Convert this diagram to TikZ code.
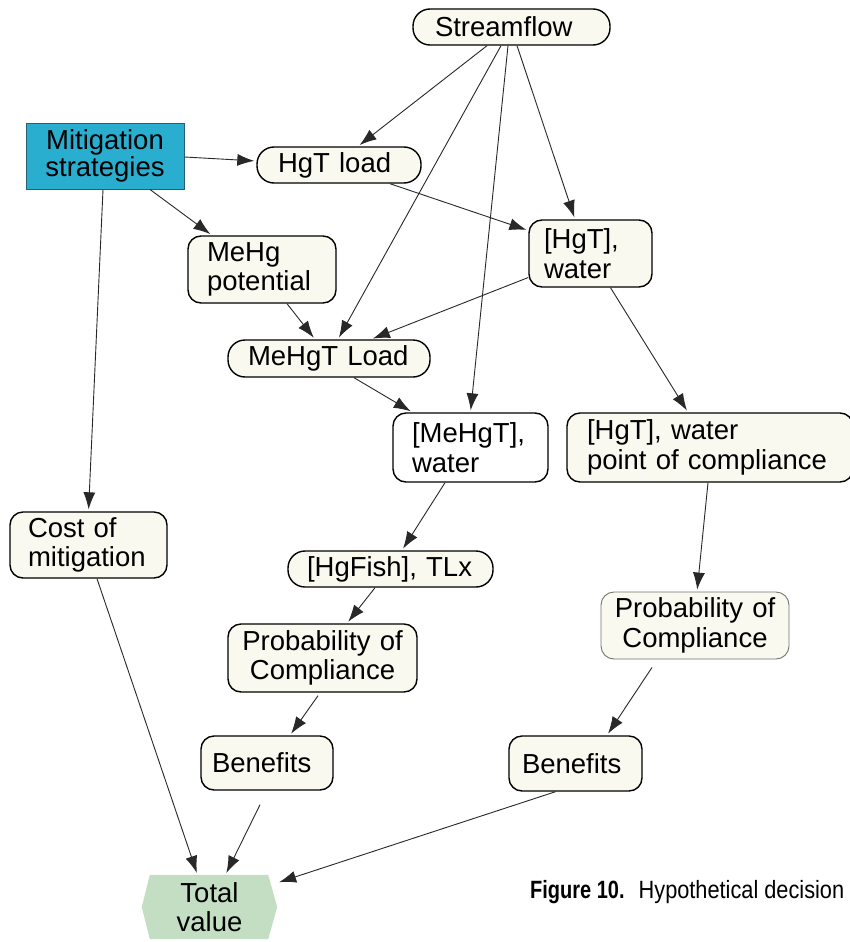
\documentclass[tikz,border=0pt]{standalone}
\usepackage{fontspec}
\setmainfont{Liberation Sans}
\newfontfamily\capfamily[FakeStretch=0.87,BoldFeatures={FakeStretch=0.8}]{Liberation Sans}
\usetikzlibrary{arrows.meta,backgrounds}

\definecolor{nodecream}{RGB}{249,249,240}
\definecolor{mitcyan}{RGB}{42,174,207}
\definecolor{mitedge}{RGB}{40,95,115}
\definecolor{valuegreen}{RGB}{196,222,196}
\definecolor{linkgray}{RGB}{40,40,40}

\newcommand\labelfont{\fontsize{27.5}{29.5}\selectfont}
\newcommand\capfont{\capfamily\fontsize{25}{29}\selectfont}

\begin{document}
\begin{tikzpicture}[x=1pt,y=-1pt,
  every node/.style={font=\labelfont, text=black},
  chance/.style={draw=black, line width=1.4pt, fill=nodecream,
                 rounded corners=13pt, inner ysep=0pt, align=left},
  pill/.style={chance, rounded corners=17pt},
  link/.style={draw=linkgray, line width=0.9pt,
               -{Latex[length=17pt,width=12pt]}, shorten >=2pt}
]
\useasboundingbox (0,0) rectangle (850,942);

% ---- nodes -------------------------------------------------------------
\node[pill, text width=153pt, inner xsep=22pt, minimum height=36pt]
  (stream) at (511.5,27) {Streamflow};
\node[draw=mitedge, line width=1pt, fill=mitcyan, align=center,
      text width=158pt, inner xsep=0pt, inner ysep=0pt, minimum height=66pt]
  (mit) at (105,156) {Mitigation\\[-2pt]strategies};
\node[pill, text width=122pt, inner xsep=21pt, minimum height=36pt]
  (hgtload) at (339,165) {HgT load};
\node[chance, text width=93pt, inner xsep=15pt, minimum height=67pt]
  (hgtw) at (590.5,253.5) {[HgT],\\water};
\node[chance, text width=110pt, inner xsep=19pt, minimum height=67pt]
  (mehgpot) at (262,269.5) {MeHg\\potential};
\node[pill, text width=162pt, inner xsep=20pt, minimum height=37pt]
  (mehgtload) at (329,358.5) {MeHgT Load};
\node[chance, fill=white, text width=117pt, inner xsep=19pt, minimum height=69pt]
  (mehgtw) at (470.5,447.5) {[MeHgT],\\water};
\node[chance, text width=246pt, inner xsep=20pt, minimum height=69pt]
  (hgtpoc) at (710,447.5) {[HgT], water\\point of compliance};
\node[chance, text width=121pt, inner xsep=18pt, minimum height=66pt]
  (cost) at (88.5,545) {Cost of\\mitigation};
\node[pill, text width=167pt, inner xsep=19pt, minimum height=36pt]
  (hgfish) at (390.5,569) {[HgFish], TLx};
\node[chance, align=center, text width=189pt, inner xsep=0pt, minimum height=68pt]
  (probL) at (322.5,658) {Probability of\\Compliance};
\node[chance, draw=black!55, line width=0.9pt, align=center, text width=188pt,
      inner xsep=0pt, minimum height=67pt]
  (probR) at (695,625.5) {Probability of\\Compliance};
\node[chance, text width=110pt, inner xsep=11pt, minimum height=54pt]
  (benL) at (267,763) {Benefits};
\node[chance, text width=107pt, inner xsep=13pt, minimum height=55pt]
  (benR) at (575.5,763.5) {Benefits};
\node[align=center, minimum width=135pt, minimum height=64pt, inner sep=0pt]
  (total) at (209.5,907) {Total\\value};

% hexagonal value node, filled behind its label
\begin{scope}[on background layer]
  \fill[white] (0,0) rectangle (850,942);
  \fill[valuegreen] ([xshift=8pt]total.north west) -- ([xshift=-9pt]total.north east)
    -- (total.east) -- ([xshift=-9pt]total.south east)
    -- ([xshift=8pt]total.south west) -- (total.west) -- cycle;
\end{scope}

% ---- influence arcs ----------------------------------------------------
\draw[link] ([xshift=-24.5pt]stream.south) -- ([xshift=19pt]hgtload.north);
\draw[link] ([xshift=5.5pt]stream.south) -- ([xshift=-15.5pt]hgtw.north);
\draw[link] ([xshift=-10.5pt]stream.south) -- ([xshift=9pt]mehgtload.north);
\draw[link] ([xshift=-3.5pt]stream.south) -- (mehgtw.north);

\draw[link] ([yshift=-1pt]mit.east) -- ([yshift=4pt]hgtload.west);
\draw[link] ([xshift=45pt]mit.south) -- ([xshift=-50pt]mehgpot.north);
\draw[link] ([xshift=-2pt]mit.south) -- (cost.north);

\draw[link] ([xshift=51pt]hgtload.south) -- ([yshift=23pt]hgtw.west);
\draw[link] ([yshift=-24pt]hgtw.west) -- ([xshift=42pt]mehgtload.north);
\draw[link] ([xshift=25pt]mehgpot.south) -- ([xshift=-14pt]mehgtload.north);
\draw[link] ([xshift=25pt]mehgtload.south) -- ([xshift=-58pt]mehgtw.north);
\draw[link] ([xshift=20pt]hgtw.south) -- ([xshift=-22pt]hgtpoc.north);

\draw[link] ([xshift=-25.5pt]mehgtw.south) -- ([xshift=11.5pt]hgfish.north);
\draw[link] ([xshift=-15.5pt]hgfish.south) -- ([xshift=24.5pt]probL.north);
\draw[link] ([xshift=-4.5pt,yshift=-3pt]probL.south) -- ([xshift=23pt]benL.north);

\draw[link] ([xshift=-2pt]hgtpoc.south) -- ([xshift=2pt]probR.north);
\draw[link] ([xshift=-43pt,yshift=-8pt]probR.south) -- ([xshift=31.5pt]benR.north);

\draw[link] ([xshift=8.5pt]cost.south) -- ([xshift=-12pt]total.north);
\draw[link] ([xshift=-7pt,yshift=-14pt]benL.south) -- ([xshift=16pt]total.north);
\draw[link] ([xshift=-20pt]benR.south) -- ([yshift=-8pt]total.north east);

% ---- caption -----------------------------------------------------------
\node[font=\capfont, anchor=base west, inner sep=0pt] (caption) at (530,898)
  {\textbf{Figure 10.}\hspace{14pt}Hypothetical decision};
\end{tikzpicture}
\end{document}
